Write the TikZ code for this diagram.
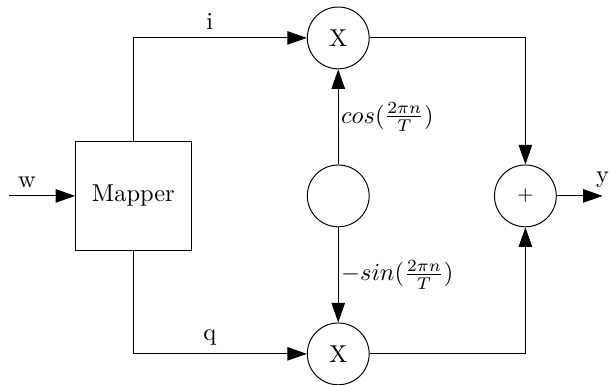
\documentclass[tikz,border=0pt]{standalone}
\usepackage{amsmath}
\usepackage{tikz}
\usetikzlibrary{calc,positioning,arrows.meta}

\begin{document}
\begin{tikzpicture}[align=center, >={Triangle[length=8pt,width=5.5pt]}]
    \useasboundingbox (-1.92,-2.72) rectangle (6.89,2.82);

    \node [draw, minimum width=1.66cm, minimum height=1.56cm] (mapper) {Mapper};
    \node [draw, circle, minimum size=0.89cm, right=1.66cm of mapper] (carrier) {};
    \node [draw, circle, minimum size=0.89cm, above=1.37cm of carrier] (mult_i) {X};
    \node [draw, circle, minimum size=0.89cm, below=1.37cm of carrier] (mult_q) {X};
    \node [draw, circle, minimum size=0.89cm, right=1.79cm of carrier] (adder) {\footnotesize +};

    \coordinate [left=0.95cm of mapper] (w_in);
    \coordinate [right=0.66cm of adder] (y_out);

    \draw[->] (w_in) -- node[above, pos=0.27] {w} (mapper);
    \draw[->] (mapper.north) |- node[above, pos=0.72] {i} (mult_i);
    \draw[->] (mapper.south) |- node[above, pos=0.72] {q} (mult_q);
    \draw[->] (carrier) -- node[right, inner sep=1pt] {$cos(\frac{2\pi n}{T})$} (mult_i);
    \draw[->] (carrier) -- node[right, inner sep=1pt] {$-sin(\frac{2\pi n}{T})$} (mult_q);
    \draw[->] (mult_i) -| (adder);
    \draw[->] (mult_q) -| (adder);
    \draw[->] (adder) -- node[above, pos=1] {y} (y_out);
\end{tikzpicture}
\end{document}
